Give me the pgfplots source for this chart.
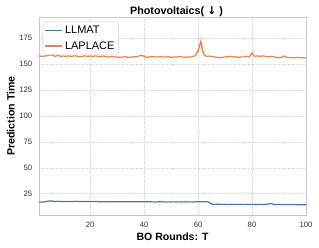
\documentclass[border=0pt]{standalone}
\usepackage{pgfplots}
\pgfplotsset{compat=1.18}
\usepgfplotslibrary{fillbetween}
\usepackage{fontspec}
\setmainfont{Liberation Sans}
\newfontfamily\symfont{DejaVu Sans}
\definecolor{sbblue}{HTML}{4C72B0}
\definecolor{sborange}{HTML}{DD8452}
\definecolor{gridc}{HTML}{D6D6D6}
\definecolor{framec}{HTML}{C8C8C8}
\begin{document}
\begin{tikzpicture}
\begin{axis}[
  name=ax,
  scale only axis,
  width=267bp, height=198bp,
  xmin=1, xmax=100, ymin=4.4, ymax=195.5,
  xtick={20,40,60,80,100},
  ytick={25,50,75,100,125,150,175},
  major tick length=0pt,
  grid=major,
  major grid style={gridc, dash pattern=on 1.5pt off 1pt, line width=0.45pt},
  axis line style={framec, line width=0.8pt},
  tick label style={font=\fontsize{7.8}{9}\selectfont, text=black!80, inner sep=0pt},
  xticklabel style={anchor=north, yshift=-7.3bp},
  yticklabel style={anchor=east, xshift=-6.5bp},
  /pgf/number format/assume math mode=true,
  xlabel={\bfseries BO Rounds: T},
  ylabel={\bfseries Prediction Time},
  label style={font=\fontsize{10.6}{12}\selectfont},
  xlabel style={at={([yshift=-25.5bp]axis description cs:0.5,0)}, anchor=base},
  ylabel style={at={([xshift=-24.5bp]axis description cs:0,0.5)}, anchor=base, rotate=0},
  every axis title shift=0pt,
  title={\bfseries Photovoltaics( {\symfont\bfseries ↓} )},
  title style={font=\fontsize{10.8}{12}\selectfont, at={([xshift=4bp,yshift=2.3bp]axis description cs:0.5,1)}, anchor=base},
  legend style={at={([xshift=3.7bp,yshift=-4.7bp]axis description cs:0,1)}, anchor=north west, draw=framec, rounded corners=2pt,
    font=\fontsize{11}{12}\selectfont, inner xsep=2pt, inner ysep=2pt, row sep=2.5pt},
  legend cell align=left,
  legend image code/.code={\draw[line width=1.2pt] (0bp,0bp) -- (17bp,0bp);},
]
\addplot[sbblue, line width=1.2pt, no markers] coordinates {
(1,17.0)(2,16.8)(3,17.0)(4,17.5)(5,18.0)(6,17.8)(7,17.5)(8,17.6)(9,17.4)(10,17.5)
(11,17.3)(12,17.4)(13,17.3)(14,17.5)(15,17.6)(16,17.4)(17,17.5)(18,17.3)(19,17.4)(20,17.5)
(21,17.3)(22,17.4)(23,17.3)(24,17.2)(25,17.3)(26,17.2)(27,17.3)(28,17.2)(29,17.1)(30,17.2)
(31,17.3)(32,17.2)(33,17.1)(34,17.2)(35,17.1)(36,17.2)(37,17.3)(38,17.2)(39,17.1)(40,17.2)
(41,17.1)(42,17.2)(43,17.1)(44,17.0)(45,17.1)(46,17.2)(47,17.1)(48,17.0)(49,17.1)(50,17.0)
(51,17.1)(52,17.0)(53,17.1)(54,17.0)(55,17.1)(56,17.0)(57,17.1)(58,17.0)(59,17.1)(60,17.2)
(61,17.1)(62,17.2)(63,17.3)(64,16.8)(65,15.0)(66,14.6)(67,14.8)(68,14.7)(69,14.6)(70,14.7)
(71,14.6)(72,14.7)(73,14.6)(74,14.7)(75,14.6)(76,14.7)(77,14.6)(78,14.7)(79,14.6)(80,14.7)
(81,14.6)(82,14.6)(83,14.7)(84,14.6)(85,14.7)(86,14.9)(87,15.6)(88,14.6)(89,14.5)(90,14.6)
(91,14.5)(92,14.4)(93,14.5)(94,14.4)(95,14.5)(96,14.4)(97,14.3)(98,14.4)(99,14.3)(100,14.3)
};
\addlegendentry{LLMAT}
\addplot[sborange, line width=1.2pt, no markers] coordinates {
(1,158.0)(2,157.5)(3,157.8)(4,158.0)(5,159.0)(6,158.5)(7,157.5)(8,158.5)(9,157.5)(10,157.8)
(11,157.5)(12,158.0)(13,157.5)(14,158.0)(15,157.8)(16,157.2)(17,157.5)(18,158.0)(19,157.5)(20,157.8)
(21,157.5)(22,158.0)(23,157.3)(24,157.5)(25,157.8)(26,157.2)(27,156.8)(28,157.5)(29,156.8)(30,157.0)
(31,156.5)(32,156.8)(33,157.2)(34,156.5)(35,156.8)(36,157.0)(37,157.2)(38,157.8)(39,158.5)(40,157.5)
(41,156.5)(42,157.0)(43,157.3)(44,157.0)(45,156.8)(46,157.2)(47,157.0)(48,156.8)(49,157.3)(50,156.5)
(51,157.0)(52,156.8)(53,157.2)(54,157.0)(55,156.5)(56,157.0)(57,156.8)(58,157.5)(59,158.0)(60,163.0)
(61,171.7)(62,160.0)(63,157.5)(64,157.8)(65,157.3)(66,157.0)(67,156.5)(68,156.2)(69,156.5)(70,157.0)
(71,157.2)(72,157.5)(73,156.8)(74,157.2)(75,156.3)(76,157.0)(77,157.0)(78,157.5)(79,156.8)(80,161.0)
(81,157.5)(82,158.0)(83,157.5)(84,158.0)(85,157.5)(86,157.0)(87,157.5)(88,157.2)(89,156.5)(90,156.2)
(91,156.5)(92,157.8)(93,156.5)(94,156.5)(95,156.0)(96,156.3)(97,156.5)(98,156.0)(99,156.2)(100,156.0)
};
\addlegendentry{LAPLACE}
\addplot[name path=up, draw=none, forget plot] coordinates {
(58,157.6)(59,158.6)(60,166.0)(61,179.0)(62,162.5)(63,157.8)(64,158.0)};
\addplot[name path=lo, draw=none, forget plot] coordinates {
(58,157.4)(59,157.5)(60,160.5)(61,165.0)(62,158.0)(63,157.2)(64,157.6)};
\addplot[sborange, fill opacity=0.25, draw=none, forget plot] fill between[of=up and lo];
\end{axis}
\pgfresetboundingbox
\path[use as bounding box] ([xshift=-39bp,yshift=-33bp]ax.south west) rectangle ([xshift=13bp,yshift=17bp]ax.north east);
\end{tikzpicture}
\end{document}
